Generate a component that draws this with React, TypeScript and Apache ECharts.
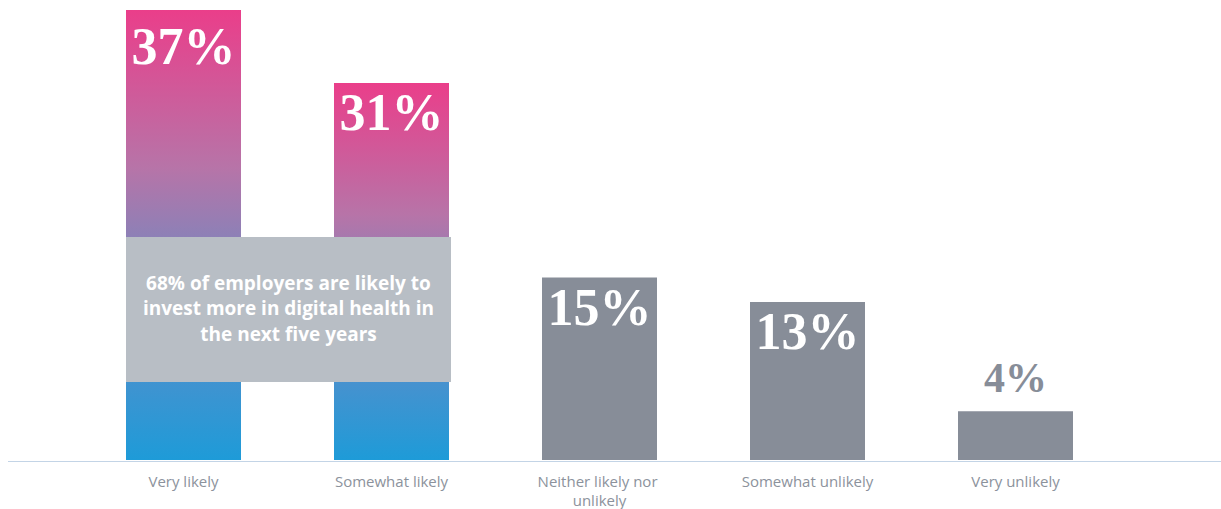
import React, { useEffect, useRef } from "react";
import * as echarts from "echarts";

const categories = ["Very likely", "Somewhat likely", "Neither likely nor unlikely", "Somewhat unlikely", "Very unlikely"];
const values = [37, 31, 15, 13, 4];
const highlighted = [true, true, false, false, false];
const labelOutside = [false, false, false, false, true];
const calloutText = "68% of employers are likely to\ninvest more in digital health in\nthe next five years";

export default function App() {
  const ref = useRef<HTMLDivElement>(null);
  useEffect(() => {
    if (!ref.current) return;
    const chart = echarts.init(ref.current, null, { renderer: "svg" });
    const gradient = () =>
      new echarts.graphic.LinearGradient(0, 0, 0, 1, [
        { offset: 0, color: "#EA3E8A" },
        { offset: 0.35, color: "#B774A8" },
        { offset: 0.5, color: "#8E80B6" },
        { offset: 0.8, color: "#4592CF" },
        { offset: 1, color: "#1E9BD8" },
      ]);
    const data = values.map((v, i) => ({
      value: v,
      itemStyle: { color: highlighted[i] ? gradient() : "#878D98" },
      label: labelOutside[i]
        ? { position: "top", color: "#878D98", fontSize: 42, distance: 12 }
        : { position: "insideTop", color: "#ffffff", fontSize: 52, distance: i === 0 ? 10 : 4 },
    }));
    chart.setOption({
      animation: false,
      grid: { left: 79.5, width: 1040, top: 10, bottom: 48 },
      xAxis: {
        type: "category",
        data: categories,
        axisLine: { show: false },
        axisTick: { show: false },
        axisLabel: {
          color: "#8C929C",
          fontFamily: "Open Sans",
          fontSize: 15,
          lineHeight: 19,
          margin: 11,
          width: 150,
          overflow: "break",
          interval: 0,
        },
      },
      yAxis: { type: "value", min: 0, max: 37, show: false, splitLine: { show: false } },
      series: [
        {
          type: "bar",
          data,
          barWidth: 115,
          label: {
            show: true,
            formatter: "{c}%",
            fontFamily: "Liberation Serif",
            fontWeight: "bold",
          },
        },
      ],
      graphic: [
        {
          type: "line",
          z: 50,
          shape: { x1: 8, y1: 461.5, x2: 1221, y2: 461.5 },
          style: { stroke: "#C3D4E6", lineWidth: 1 },
        },
        {
          type: "rect",
          z: 100,
          shape: { x: 126, y: 237, width: 325, height: 145 },
          style: { fill: "#B8BEC5" },
        },
        {
          type: "text",
          z: 101,
          x: 288.5,
          y: 308,
          style: {
            text: calloutText,
            fill: "#ffffff",
            font: "bold 19px 'Open Sans'",
            lineHeight: 25.5,
            align: "center",
            verticalAlign: "middle",
          },
        },
      ],
    });
    return () => chart.dispose();
  }, []);
  return <div ref={ref} style={{ position: "absolute", left: 0, top: 0, width: 1221, height: 509 }} />;
}
